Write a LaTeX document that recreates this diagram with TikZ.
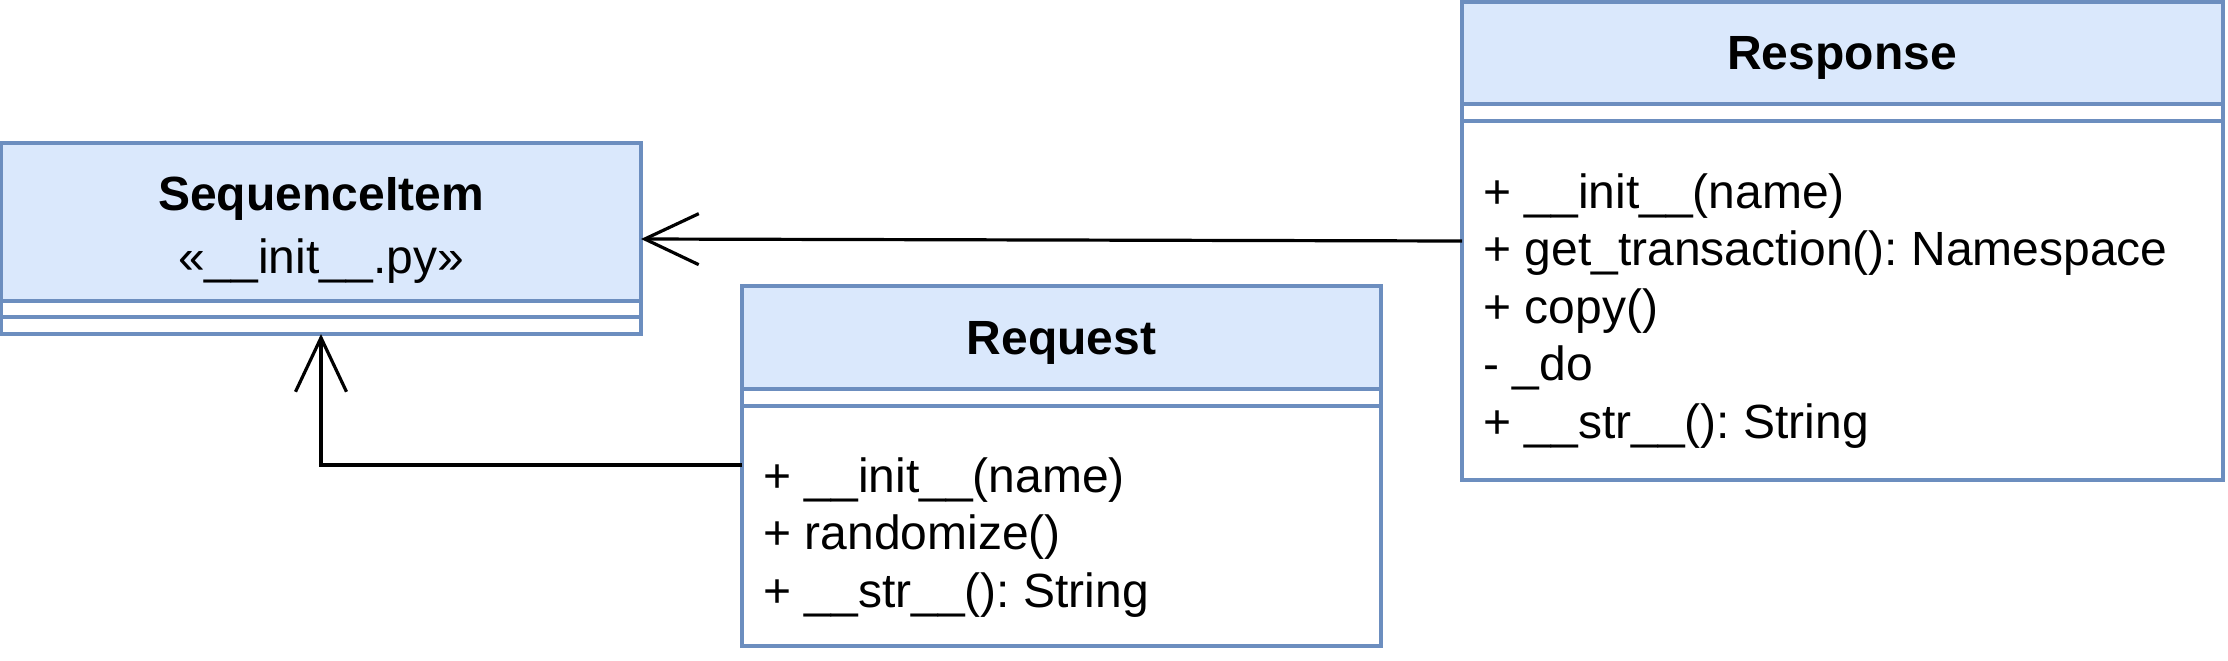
\documentclass[tikz,border=0pt]{standalone}
\usepackage{fontspec}
\setmainfont{Liberation Sans}
\usetikzlibrary{arrows.meta}
\definecolor{umlblue}{HTML}{6C8EBF}
\definecolor{umlfill}{HTML}{DAE8FC}
\frenchspacing
\begin{document}
\frenchspacing
\begin{tikzpicture}[x=0.5pt,y=-0.5pt,
  umlbox/.style={draw=umlblue,fill=umlfill,line width=1.6pt,inner sep=0pt,outer sep=0pt,anchor=north west,rectangle},
  compline/.style={draw=umlblue,line width=1.6pt},
  titletext/.style={font=\bfseries\fontsize{24}{29}\selectfont,anchor=base,inner sep=0pt},
  stereotext/.style={font=\fontsize{24}{29}\selectfont,anchor=base,inner sep=0pt},
  member/.style={font=\fontsize{24}{29}\selectfont,anchor=base west,inner sep=0pt},
  inherit/.style={draw=black,line width=1.6pt,-{Straight Barb[length=27pt,width=25.5pt]}}
]
\useasboundingbox (0,0) rectangle (2228,660);
% helper coordinates
\coordinate (c301) at (0,301);
\coordinate (c317) at (0,317);
\coordinate (c104) at (0,104);
\coordinate (c121) at (0,121);
\coordinate (c389) at (0,389);
\coordinate (c406) at (0,406);
\coordinate (c241) at (0,241);
\coordinate (c239) at (0,239);
\coordinate (c465) at (0,465);
\coordinate (c321) at (321,0);

% SequenceItem
\node[umlbox,minimum width=320pt,minimum height=95.5pt] (seq) at (1,143) {};
\draw[compline,fill=white] (seq.west |- c301) rectangle (seq.south east);
\draw[compline] (seq.west |- c317) -- (seq.east |- c317);
\node[titletext] (seqt) at (321,210) {SequenceItem};
\node[stereotext] (seqs) at (321,273) {«\_\_init\_\_.py»};

% Response
\node[umlbox,minimum width=380.5pt,minimum height=239pt] (resp) at (1462,2) {};
\draw[compline,fill=white] (resp.west |- c104) rectangle (resp.south east);
\draw[compline] (resp.west |- c121) -- (resp.east |- c121);
\node[titletext] (respt) at (1842,69) {Response};
\node[member] (r1) at (1483,208) {+ \_\_init\_\_(name)};
\node[member] (r2) at (1483,265.5) {+ get\_transaction(): Namespace};
\node[member] (r3) at (1483,323) {+ copy()};
\node[member] (r4) at (1483,380.5) {- \_do};
\node[member] (r5) at (1483,438) {+ \_\_str\_\_(): String};

% Request
\node[umlbox,minimum width=319.5pt,minimum height=180pt] (req) at (742,286) {};
\draw[compline,fill=white] (req.west |- c389) rectangle (req.south east);
\draw[compline] (req.west |- c406) -- (req.east |- c406);
\node[titletext] (reqt) at (1061.5,354) {Request};
\node[member] (q1) at (763,492) {+ \_\_init\_\_(name)};
\node[member] (q2) at (763,549.5) {+ randomize()};
\node[member] (q3) at (763,607) {+ \_\_str\_\_(): String};

% connectors
\draw[inherit] (resp.west |- c241) -- (seq.east |- c239);
\draw[inherit] (req.west |- c465) -| (c321 |- seq.south);
\end{tikzpicture}
\end{document}
